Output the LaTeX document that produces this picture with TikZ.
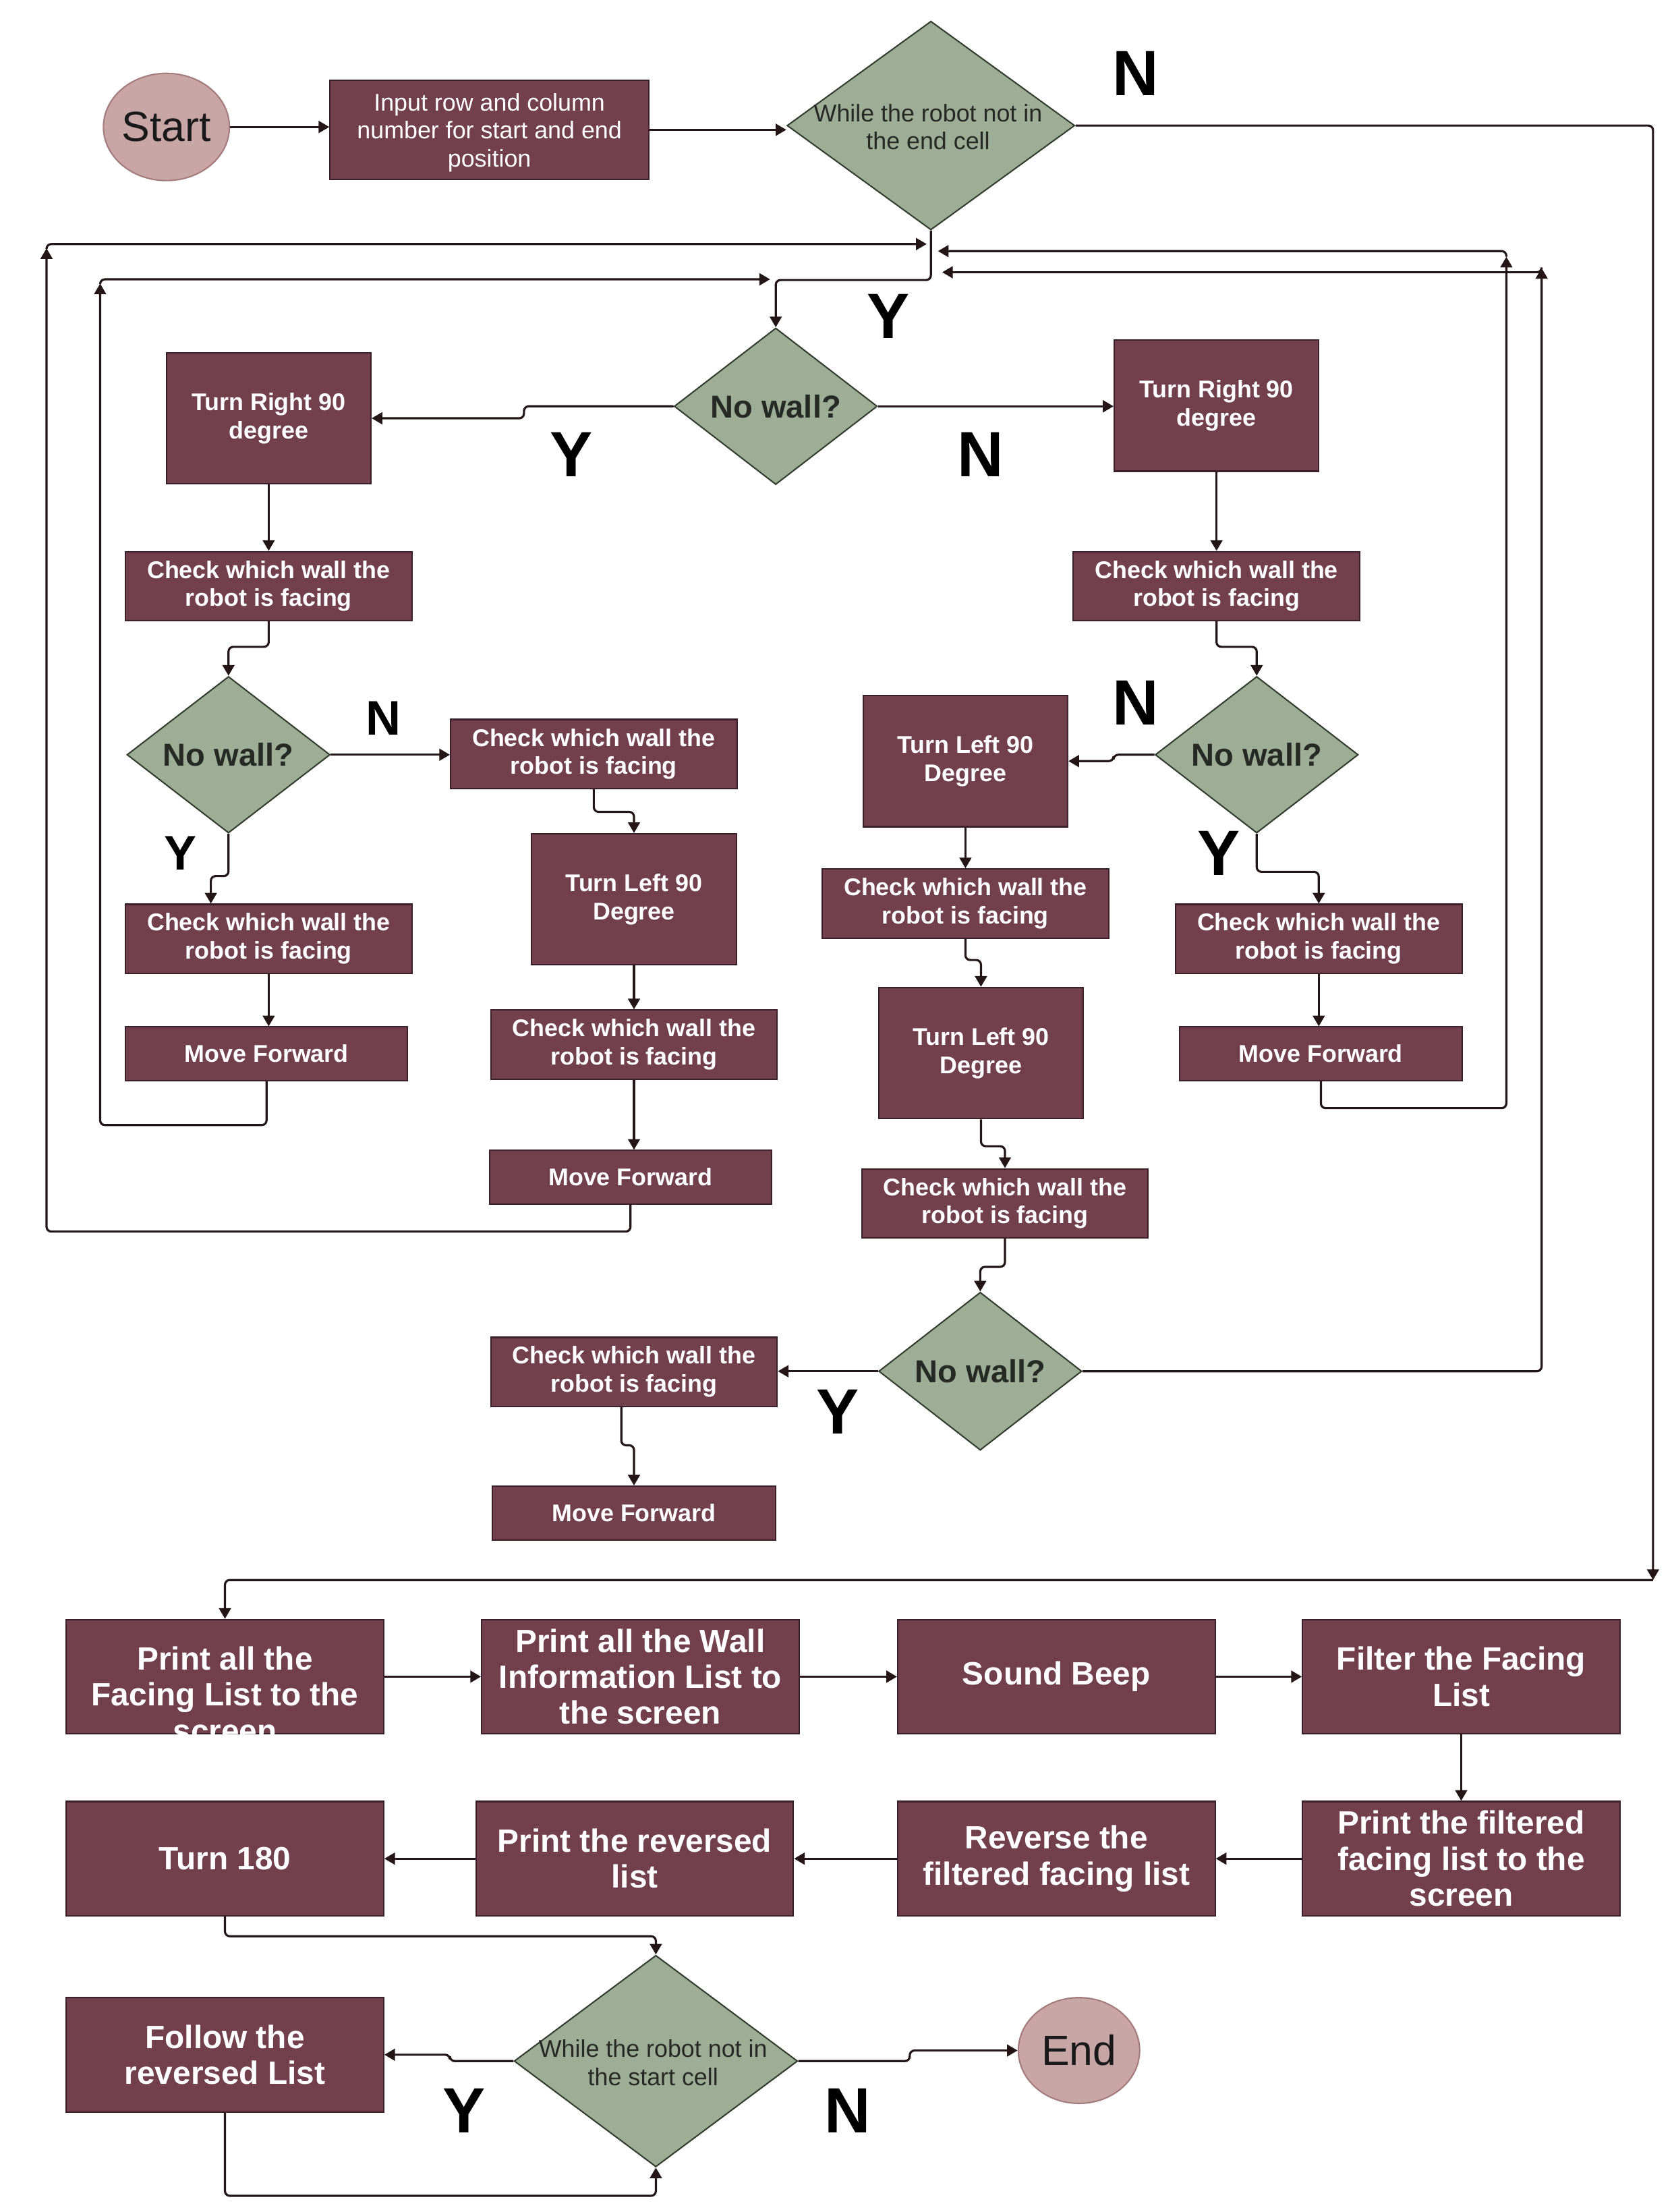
\documentclass[tikz,border=0pt]{standalone}
\usepackage{fontspec}
\setmainfont{Liberation Sans}
\usepackage{xcolor}
\usetikzlibrary{arrows.meta,shapes.geometric}
\definecolor{boxfill}{HTML}{71404C}
\definecolor{boxline}{HTML}{3B2029}
\definecolor{decfill}{HTML}{9DAD96}
\definecolor{decline}{HTML}{34402F}
\definecolor{dectext}{HTML}{252A24}
\definecolor{termfill}{HTML}{C9A6A6}
\definecolor{termline}{HTML}{A57C7C}
\definecolor{linecol}{HTML}{231518}
\newlength\unitpx
\setlength\unitpx{0.02092cm}

\begin{document}
\begin{tikzpicture}[x=0.02092cm,y=-0.02092cm,
box/.style={rectangle,draw=boxline,line width=0.6pt,fill=boxfill,text=white,align=center,inner sep=0pt,font=\bfseries\fontsize{10.2}{11.9}\selectfont},
checkbox/.style={box,minimum width=203\unitpx,minimum height=49\unitpx},
turnbox/.style={box,minimum width=145\unitpx,minimum height=93\unitpx},
movebox/.style={box,minimum width=200\unitpx,minimum height=38\unitpx},
listbox/.style={box,minimum width=225\unitpx,minimum height=81\unitpx,font=\bfseries\fontsize{13.6}{15.2}\selectfont},
listtext/.style={align=center,text=white,inner sep=0pt,font=\bfseries\fontsize{13.6}{15.2}\selectfont},
decision/.style={diamond,draw=decline,line width=0.6pt,fill=decfill,inner sep=0pt,text=dectext,font=\bfseries\fontsize{13.4}{15}\selectfont},
wall/.style={decision,minimum width=144\unitpx,minimum height=111\unitpx},
loopdec/.style={decision,minimum width=204\unitpx,minimum height=148\unitpx},
looptext/.style={align=center,text=dectext,inner sep=0pt,font=\fontsize{10.2}{11.9}\selectfont},
terminal/.style={ellipse,draw=termline,fill=termfill,line width=0.6pt,inner sep=0pt,text=black!90,font=\fontsize{17.8}{20}\selectfont},
yn/.style={inner sep=0pt,font=\bfseries\fontsize{27}{30}\selectfont},
ynsmall/.style={inner sep=0pt,font=\bfseries\fontsize{20.5}{24}\selectfont},
flow/.style={draw=linecol,line width=0.9pt,rounded corners=2pt,-{Triangle[length=4.5pt,width=5pt]}}]

\fill[white] (0,0) rectangle (1185,1568);
\useasboundingbox (0,0) rectangle (1185,1568);

\node[terminal,minimum width=87\unitpx,minimum height=76\unitpx] (start) at (118,90) {Start};
\node[box,minimum width=226\unitpx,minimum height=70\unitpx] (inp) at (347,92) {};
\node[align=center,text=white,inner sep=0pt,font=\fontsize{10.2}{11.9}\selectfont] (inpt) at (347,94) {Input row and column\\number for start and end\\position};
\node[loopdec] (d1) at (660,89) {};
\node[looptext] (d1t) at (658,90) {While the robot not in\\the end cell};

\node[wall] (d2) at (550,288) {No wall?};
\node[turnbox] (tr1) at (190.5,296.5) {Turn Right 90\\degree};
\node[turnbox] (tr2) at (862.5,287.5) {Turn Right 90\\degree};

\node[checkbox] (c1) at (190.5,415.5) {Check which wall the\\robot is facing};
\node[wall] (d3) at (162,535) {No wall?};
\node[checkbox] (c2) at (421,534.5) {Check which wall the\\robot is facing};
\node[checkbox] (c3) at (190.5,665.5) {Check which wall the\\robot is facing};
\node[movebox] (mf1) at (189,747) {Move Forward};
\node[turnbox] (tl1) at (449.5,637.5) {Turn Left 90\\Degree};
\node[checkbox] (c4) at (449.5,740.5) {Check which wall the\\robot is facing};
\node[movebox] (mf2) at (447,834.5) {Move Forward};

\node[checkbox] (c5) at (862.5,415.5) {Check which wall the\\robot is facing};
\node[wall] (d4) at (891,535) {No wall?};
\node[turnbox] (tl2) at (684.5,539.5) {Turn Left 90\\Degree};
\node[checkbox] (c6) at (935,665.5) {Check which wall the\\robot is facing};
\node[movebox] (mf3) at (936.5,747) {Move Forward};
\node[checkbox] (c7) at (684.5,640.5) {Check which wall the\\robot is facing};
\node[turnbox] (tl3) at (695.5,746.5) {Turn Left 90\\Degree};
\node[checkbox] (c8) at (712.5,853) {Check which wall the\\robot is facing};
\node[wall,minimum height=112\unitpx] (d5) at (695,972) {No wall?};
\node[checkbox] (c9) at (449.5,972.5) {Check which wall the\\robot is facing};
\node[movebox,minimum width=201\unitpx] (mf4) at (449.5,1072.5) {Move Forward};

\node[listbox] (p1) at (159.5,1188.5) {};
\begin{scope}
\clip (p1.north west) rectangle (p1.south east);
\node[listtext] (p1t) at (159.5,1201) {Print all the\\Facing List to the\\screen};
\end{scope}
\node[listbox] (p2) at (454,1188.5) {Print all the Wall\\Information List to\\the screen};
\node[listbox] (p3) at (749,1188.5) {Sound Beep};
\node[listbox] (p4) at (1036,1188.5) {Filter the Facing\\List};
\node[listbox] (p5) at (1036,1317.5) {Print the filtered\\facing list to the\\screen};
\node[listbox] (p6) at (749,1317.5) {Reverse the\\filtered facing list};
\node[listbox] (p7) at (450,1317.5) {Print the reversed\\list};
\node[listbox] (p8) at (159.5,1317.5) {Turn 180};
\node[listbox] (p9) at (159.5,1456.5) {Follow the\\reversed List};
\node[decision,minimum width=201\unitpx,minimum height=150\unitpx] (d6) at (465,1461) {};
\node[looptext] (d6t) at (463,1462) {While the robot not in\\the start cell};
\node[terminal,minimum width=86\unitpx,minimum height=75\unitpx] (end) at (765,1453.5) {End};

\node[yn] (n1) at (805,52) {N};
\node[yn] (y1) at (630,224) {Y};
\node[yn] (y2) at (405,322) {Y};
\node[yn] (n2) at (695,322) {N};
\node[ynsmall] (n3) at (272,509) {N};
\node[ynsmall] (y3) at (128,605) {Y};
\node[yn] (n4) at (805,498) {N};
\node[yn] (y4) at (864,605) {Y};
\node[yn] (y5) at (594,1001) {Y};
\node[yn] (y6) at (329,1496) {Y};
\node[yn] (n6) at (601,1496) {N};

\coordinate (jn) at (1172,1120);
\coordinate (ja) at (33,176);
\coordinate (ka) at (657,173);
\coordinate (jb) at (71,201);
\coordinate (kb) at (546,198);
\coordinate (jc) at (1068,182);
\coordinate (kc) at (665,178);
\coordinate (jd) at (1093,190);
\coordinate (kd) at (668,193);

\draw[flow] (start.east) -- (start.east -| inp.west);
\draw[flow] (inp.east) -- (inp.east -| d1.west);
\draw[flow] (d1.east) -| (jn);
\draw[flow] (jn) -| (p1.north);
\draw[flow] (d1.south) -- ++(0,35) -| (d2.north);

\draw[flow] (d2.west) -- ++(-106,0) |- (tr1.east);
\draw[flow] (d2.east) -- (d2.east -| tr2.west);
\draw[flow] (tr1.south) -- (c1.north);
\draw[flow] (c1.south) -- ++(0,18) -| (d3.north);
\draw[flow] (d3.east) -- (d3.east -| c2.west);
\draw[flow] (d3.south) -- ++(0,30) -| ([xshift=-41\unitpx]c3.north);
\draw[flow] (c3.south) -- (c3.south |- mf1.north);
\draw[flow] (c2.south) -- ++(0,16) -| (tl1.north);
\draw[flow] (tl1.south) -- (c4.north);
\draw[flow] (c4.south) -- (c4.south |- mf2.north);

\draw[flow] (tr2.south) -- (c5.north);
\draw[flow] (c5.south) -- ++(0,18) -| (d4.north);
\draw[flow] (d4.west) -- ++(-29,0) |- (tl2.east);
\draw[flow] (d4.south) -- ++(0,27) -| (c6.north);
\draw[flow] (c6.south) -- (c6.south |- mf3.north);
\draw[flow] (tl2.south) -- (c7.north);
\draw[flow] (c7.south) -- ++(0,15) -| (tl3.north);
\draw[flow] (tl3.south) -- ++(0,19) -| (c8.north);
\draw[flow] (c8.south) -- ++(0,20) -| (d5.north);
\draw[flow] (d5.west) -- (d5.west -| c9.east);
\draw[flow] ([xshift=-9\unitpx]c9.south) -- ++(0,27) -| (mf4.north);

\draw[flow] (mf2.south) -- ++(0,19) -| (ja);
\draw[flow] (ja) |- (ka);
\draw[flow] (mf1.south) -- ++(0,31) -| (jb);
\draw[flow] (jb) |- (kb);
\draw[flow] (mf3.south) -- ++(0,19) -| (jc);
\draw[flow] (jc) |- (kc);
\draw[flow] (d5.east) -| (jd);
\draw[flow] (jd) |- (kd);

\draw[flow] (p1.east) -- (p2.west);
\draw[flow] (p2.east) -- (p3.west);
\draw[flow] (p3.east) -- (p4.west);
\draw[flow] (p4.south) -- (p5.north);
\draw[flow] (p5.west) -- (p6.east);
\draw[flow] (p6.west) -- (p7.east);
\draw[flow] (p7.west) -- (p8.east);
\draw[flow] (p8.south) -- ++(0,14) -| (d6.north);
\draw[flow] (d6.west) -- ++(-45,0) |- (p9.east);
\draw[flow] (d6.east) -- ++(79,0) |- (end.west);
\draw[flow] (p9.south) -- ++(0,59) -| (d6.south);
\end{tikzpicture}
\end{document}
